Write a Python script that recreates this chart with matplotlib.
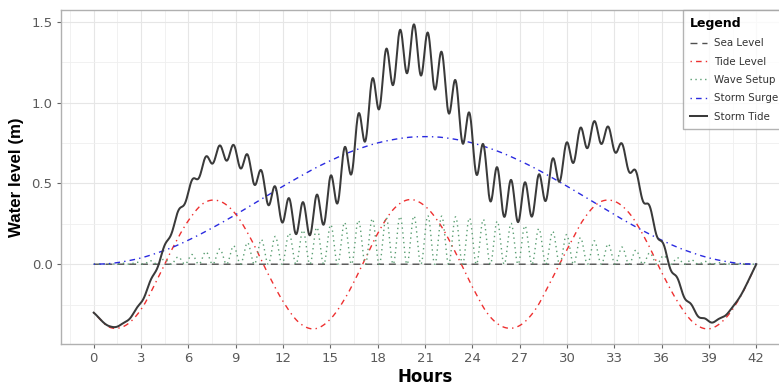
import numpy as np
import matplotlib
matplotlib.use('Agg')
import matplotlib.pyplot as plt
from matplotlib.lines import Line2D
from matplotlib.ticker import FixedLocator

# ---------------- data ----------------
hours = list(range(0, 43))
sea_level = [0.0] * 43
tide_level = [-0.30, -0.39, -0.38, -0.28, -0.10, 0.10, 0.27, 0.38, 0.39, 0.31,
              0.15, -0.05, -0.23, -0.36, -0.40, -0.34, -0.20, -0.01, 0.19, 0.34,
              0.40, 0.36, 0.24, 0.06, -0.14, -0.31, -0.39, -0.38, -0.28, -0.10,
              0.09, 0.27, 0.38, 0.39, 0.31, 0.15, -0.05, -0.23, -0.36, -0.40,
              -0.34, -0.20, 0.00]
storm_surge = [0.00, 0.004, 0.018, 0.039, 0.069, 0.105, 0.149, 0.198, 0.251, 0.307,
               0.366, 0.425, 0.483, 0.539, 0.593, 0.641, 0.685, 0.721, 0.751, 0.772,
               0.786, 0.790, 0.786, 0.772, 0.751, 0.721, 0.685, 0.641, 0.593, 0.539,
               0.483, 0.425, 0.366, 0.307, 0.251, 0.198, 0.149, 0.105, 0.069, 0.039,
               0.018, 0.004, 0.00]
# peak height of the wave-setup oscillation around each hour
wave_setup_peak = [0.000, 0.002, 0.007, 0.015, 0.026, 0.040, 0.056, 0.075, 0.095, 0.117,
                   0.139, 0.161, 0.183, 0.205, 0.225, 0.244, 0.260, 0.274, 0.285, 0.293,
                   0.298, 0.300, 0.298, 0.293, 0.285, 0.274, 0.260, 0.244, 0.225, 0.205,
                   0.183, 0.161, 0.139, 0.117, 0.095, 0.075, 0.056, 0.040, 0.026, 0.015,
                   0.007, 0.002, 0.000]
wave_period_h = 0.88      # period of the wave-setup oscillation (hours)
wave_crest_hour = 20.3    # one crest of the oscillation

x_ticks = list(range(0, 43, 3))
y_ticks = [0.0, 0.5, 1.0, 1.5]
y_tick_labels = ['0.0', '0.5', '1.0', '1.5']
series_names = ['Sea Level', 'Tide Level', 'Wave Setup', 'Storm Surge', 'Storm Tide']


def smooth(xk, yk, t):
    xk = np.asarray(xk, float)
    yk = np.asarray(yk, float)
    m = np.gradient(yk, xk)
    i = np.clip(np.searchsorted(xk, t, side='right') - 1, 0, len(xk) - 2)
    h = xk[i + 1] - xk[i]
    s = (t - xk[i]) / h
    h00 = 2 * s**3 - 3 * s**2 + 1
    h10 = s**3 - 2 * s**2 + s
    h01 = -2 * s**3 + 3 * s**2
    h11 = s**3 - s**2
    return h00 * yk[i] + h10 * h * m[i] + h01 * yk[i + 1] + h11 * h * m[i + 1]


t = np.linspace(0, 42, 3001)
sea_f = smooth(hours, sea_level, t)
tide_f = smooth(hours, tide_level, t)
surge_f = smooth(hours, storm_surge, t)
wave_f = smooth(hours, wave_setup_peak, t) * np.cos(np.pi * (t - wave_crest_hour) / wave_period_h) ** 2
storm_tide_f = sea_f + tide_f + surge_f + wave_f

# ---------------- figure ----------------
W, H = 779, 385
fig = plt.figure(figsize=(W / 100, H / 100), dpi=100)
ax_left, ax_right, ax_top, ax_bot = 60.6, 789.4, 10, 344
ax = fig.add_axes([ax_left / W, 1 - ax_bot / H, (ax_right - ax_left) / W, (ax_bot - ax_top) / H])

styles = {
    'Sea Level': dict(color='#505050', lw=1.0, ls=(0, (5, 3.5))),
    'Tide Level': dict(color='#EE3030', lw=1.0, ls=(0, (1, 3, 4, 3))),
    'Wave Setup': dict(color='#5A9E72', lw=1.0, ls=(0, (1, 2.5))),
    'Storm Surge': dict(color='#2A2AE0', lw=1.0, ls=(0, (1, 3, 4, 3))),
    'Storm Tide': dict(color='#3A3A3A', lw=1.45, ls='-'),
}
series = {
    'Sea Level': sea_f,
    'Tide Level': tide_f,
    'Wave Setup': wave_f,
    'Storm Surge': surge_f,
    'Storm Tide': storm_tide_f,
}
for name in series_names:
    ax.plot(t, series[name], **styles[name], zorder=3 if name != 'Storm Tide' else 4)

ax.set_xlim(-2.1, 44.1)
ax.set_ylim(-0.494, 1.574)
ax.xaxis.set_major_locator(FixedLocator(x_ticks))
ax.xaxis.set_minor_locator(FixedLocator([x + 1.5 for x in range(-3, 45, 3)]))
ax.yaxis.set_major_locator(FixedLocator(y_ticks))
ax.set_yticklabels(y_tick_labels)
ax.yaxis.set_minor_locator(FixedLocator([-0.25, 0.25, 0.75, 1.25]))

ax.grid(which='major', color='#E6E6E6', lw=0.8, zorder=0)
ax.grid(which='minor', color='#EFEFEF', lw=0.6, zorder=0)
ax.set_axisbelow(True)
for sp in ax.spines.values():
    sp.set_color('#B0B0B0')
    sp.set_linewidth(1.0)

ax.tick_params(which='major', length=2.8, width=0.8, color='#666666',
               labelsize=9.5, labelcolor='#5A5A5A', pad=3)
ax.tick_params(which='minor', length=0)

ax.set_xlabel('Hours', fontsize=12, fontweight='bold', labelpad=2)
ax.set_ylabel('Water level (m)', fontsize=12.2, fontweight='bold',
              family='Liberation Sans', labelpad=5)

handles = [Line2D([], [], **styles[n]) for n in series_names]
leg = fig.legend(handles, series_names, loc='upper left',
                 bbox_to_anchor=(683 / W, 1 - 10 / H), bbox_transform=fig.transFigure,
                 borderaxespad=0, fontsize=7.4, title='Legend',
                 title_fontproperties={'weight': 'bold', 'size': 9},
                 alignment='left', frameon=True, fancybox=False,
                 handlelength=1.65, handletextpad=0.7, labelspacing=0.82,
                 borderpad=0.65)
leg.get_frame().set_edgecolor('#A0A0A0')
leg.get_frame().set_linewidth(1.0)
for txt in leg.get_texts():
    txt.set_color('#333333')

fig.savefig('out.png', dpi=100)
